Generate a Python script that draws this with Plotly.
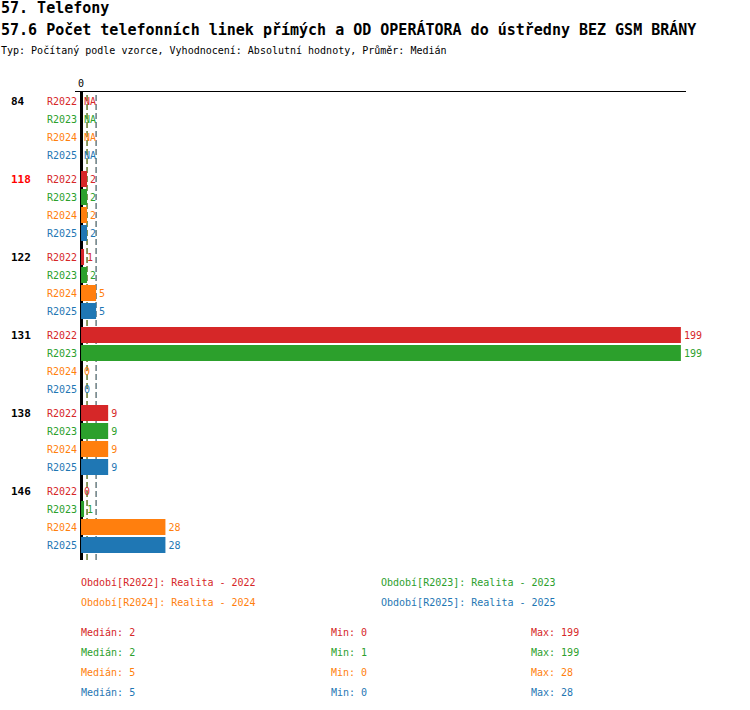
import numpy as np
import plotly.graph_objects as go

# data
categories = ["84", "118", "122", "131", "138", "146"]
highlight = "118"
series = ["R2022", "R2023", "R2024", "R2025"]
series_names = ["Realita - 2022", "Realita - 2023", "Realita - 2024", "Realita - 2025"]
colors = ["#d62728", "#2ca02c", "#ff7f0e", "#1f77b4"]
v2022 = [None, 2, 1, 199, 9, 0]
v2023 = [None, 2, 2, 199, 9, 1]
v2024 = [None, 2, 5, 0, 9, 28]
v2025 = [None, 2, 5, 0, 9, 28]
values = [v2022, v2023, v2024, v2025]

FONT = "DejaVu Sans Mono"
GAP = 1 / 3  # extra space between groups, in row units
n_s = len(series)


def row_pos(g, s):
    return g * (n_s + GAP) + s


fig = go.Figure()

# bars with value labels (NA drawn as empty bar with label)
for s, name in enumerate(series):
    ys = [row_pos(g, s) for g in range(len(categories))]
    fig.add_trace(go.Bar(
        x=[v if v is not None else 0 for v in values[s]], y=ys, orientation="h",
        width=16 / 18, marker=dict(color=colors[s], line=dict(width=0)),
        text=[str(v) if v is not None else "NA" for v in values[s]],
        textposition="outside", cliponaxis=False, constraintext="none",
        textfont=dict(family=FONT, size=10, color=colors[s]),
        name=name, hoverinfo="skip", showlegend=False,
    ))

# statistics
stats = []
for s in range(n_s):
    vals = np.array([v for v in values[s] if v is not None], dtype=float)
    stats.append((np.median(vals), vals.min(), vals.max()))

# median lines
for s in range(n_s):
    fig.add_shape(type="line", xref="x", yref="paper", layer="below",
                  x0=stats[s][0], x1=stats[s][0], y0=0, y1=1,
                  line=dict(color=colors[s], width=1, dash="6px,3px"))

annotations = []
# titles
title_lines = [
    ("<b>57. Telefony</b>", 15, 84),
    ("<b>57.6 Počet telefonních linek přímých a OD OPERÁTORA do ústředny BEZ GSM BRÁNY</b>", 15, 63),
    ("Typ: Počítaný podle vzorce, Vyhodnocení: Absolutní hodnoty, Průměr: Medián", 10, 42),
]
for txt, size, shift in title_lines:
    annotations.append(dict(text=txt, xref="paper", yref="paper", x=0, y=1,
                            xanchor="left", yanchor="middle", xshift=-76, yshift=shift,
                            showarrow=False, font=dict(family=FONT, size=size, color="black")))

# category and series labels
for g, cat in enumerate(categories):
    annotations.append(dict(text=f"<b>{cat}</b>", xref="paper", yref="y", x=0, y=row_pos(g, 0),
                            xanchor="left", yanchor="middle", xshift=-66, showarrow=False,
                            font=dict(family=FONT, size=11,
                                      color="#ff0000" if cat == highlight else "black")))
    for s in range(n_s):
        annotations.append(dict(text=series[s], xref="paper", yref="y", x=0, y=row_pos(g, s),
                                xanchor="right", yanchor="middle", xshift=4, showarrow=False,
                                font=dict(family=FONT, size=10, color=colors[s])))

# legend block
for s in range(n_s):
    col, row = s % 2, s // 2
    annotations.append(dict(text=f"Období[{series[s]}]: {series_names[s]}", xref="paper", yref="paper",
                            x=0, y=0, xanchor="left", yanchor="middle",
                            xshift=4 + 300 * col, yshift=-22 - 20 * row, showarrow=False,
                            font=dict(family=FONT, size=10, color=colors[s])))

# stats block
for s in range(n_s):
    med, mn, mx = stats[s]
    for txt, xs in [(f"Medián: {med:g}", 4), (f"Min: {mn:g}", 254), (f"Max: {mx:g}", 454)]:
        annotations.append(dict(text=txt, xref="paper", yref="paper", x=0, y=0,
                                xanchor="left", yanchor="middle",
                                xshift=xs, yshift=-72 - 20 * s, showarrow=False,
                                font=dict(family=FONT, size=10, color=colors[s])))

y_max = row_pos(len(categories) - 1, n_s - 1)
fig.update_layout(
    width=750, height=710,
    margin=dict(l=75, r=64, t=92, b=150),
    plot_bgcolor="white", paper_bgcolor="white",
    barmode="overlay",
    font=dict(family=FONT, size=10, color="black"),
    xaxis=dict(side="top", range=[-2, 200.7], tickvals=[0], ticktext=["0"],
               showgrid=False, showline=True, linecolor="black", linewidth=1,
               zeroline=True, zerolinecolor="black", zerolinewidth=3,
               ticks="", tickfont=dict(family=FONT, size=10, color="black")),
    yaxis=dict(range=[y_max + 0.833, -0.5], showticklabels=False, showgrid=False,
               zeroline=False, showline=False),
    annotations=annotations,
    showlegend=False,
)

# drop the default browser body margin so the figure sits at the page origin
fig.write_html("out.html", config={"displayModeBar": False},
               post_script="document.body.style.margin='0';")
